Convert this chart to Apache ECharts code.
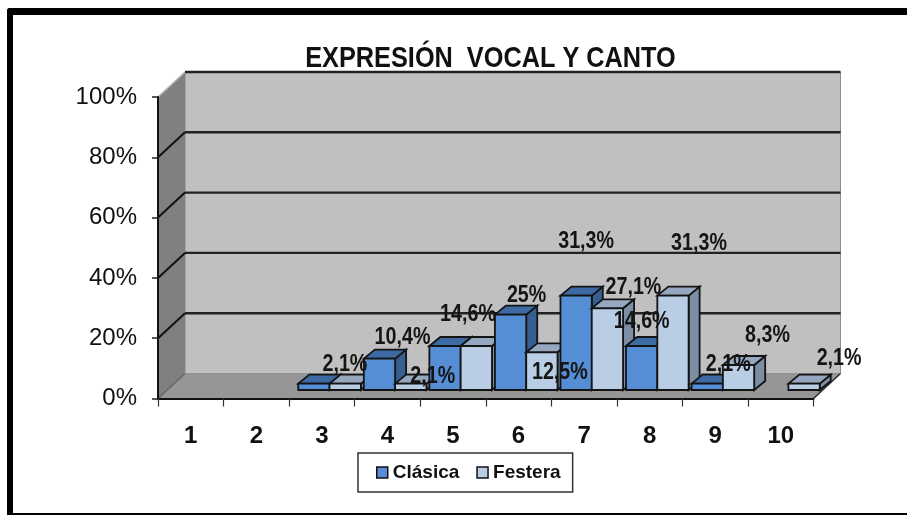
<!DOCTYPE html>
<html><head><meta charset="utf-8">
<style>html,body{margin:0;padding:0;background:#fff}#c{width:907px;height:515px}</style>
<script src="https://cdn.jsdelivr.net/npm/echarts@6/dist/echarts.min.js"></script>
</head><body><div id="c"></div>
<script>
const titleText = 'EXPRESIÓN  VOCAL Y CANTO';
const categories = ['1','2','3','4','5','6','7','8','9','10'];
const yTicks = [0,20,40,60,80,100];
const clasica = [null,null,2.1,10.4,14.6,25,31.3,14.6,2.1,null];
const festera = [null,null,2.1,2.1,14.6,12.5,27.1,31.3,8.3,2.1];
// Which bars carry a label in the reference, and how far the label was hand-moved from the bar top
const clasicaLabelShift = [null,null,[31,-19],[23,-21],[23,-32],[16,-19],[10,-54],[0,-25],[21,-19],null];
const festeraLabelShift = [null,null,null,[22,-7],null,[18,20],[26,-21],[26,-52],[29,-30],[35,-25]];

const FONT = '"Liberation Sans",Arial,sans-serif';
const DX = 27, DY = -25;
const BAR_W = 31.3, BAR_SHIFT = 7.7, BAR_LIFT = 8.5, DEPTH_X = 11, DEPTH_Y = -9;
const fmt = v => String(v).replace('.', ',') + '%';

function poly(points, fill, stroke, lw, z2) {
  return {type:'polygon', shape:{points}, z2, silent:true,
    style:{fill, stroke:stroke||null, lineWidth:lw||0, lineJoin:'miter'}};
}
function seg(a, b, stroke, lw, z2) {
  return {type:'line', shape:{x1:a[0],y1:a[1],x2:b[0],y2:b[1]}, z2, silent:true,
    style:{stroke, lineWidth:lw}};
}
function renderWalls(params, api) {
  const band = api.size([1,0])[0];
  const L = api.coord([0,0])[0]-band/2, R = api.coord([categories.length-1,0])[0]+band/2;
  const B = api.coord([0,0])[1], T = api.coord([0,100])[1];
  const kids = [
    poly([[L+DX,T+DY],[R+DX,T+DY],[R+DX,B+DY],[L+DX,B+DY]],'#c0c0c0','#8c8c8c',1,-100),
    poly([[L,T],[L+DX,T+DY],[L+DX,B+DY],[L,B]],'#808080',null,0,-99),
    poly([[L,B],[L+DX,B+DY],[R+DX,B+DY],[R,B]],'#969696',null,0,-99),
    seg([L,T],[L+DX,T+DY],'#b5b5b5',1.5,-98),
    seg([R,B],[R+DX,B+DY],'#2a2a2a',1.5,-98),
    seg([L,B],[L+DX,B+DY],'#666',1.5,-98)
  ];
  yTicks.forEach(t => {
    if (t === 0) return;
    const y = api.coord([0,t])[1];
    kids.push(seg([L+DX,y+DY],[R+DX,y+DY],'#222',2.4,-97));
    if (t !== 100) kids.push(seg([L,y],[L+DX,y+DY],'#111',2,-97));
  });
  return {type:'group', children:kids};
}
function barRenderer(sIdx, cols, shifts) {
  return function (params, api) {
    const v = api.value(1);
    if (v == null || isNaN(v)) return null;
    const i = api.value(0);
    const c = api.coord([i, v]), b = api.coord([i, 0]);
    const x0 = c[0]+BAR_SHIFT-BAR_W+sIdx*BAR_W, x1 = x0+BAR_W;
    const yT = c[1]-BAR_LIFT, yB = b[1]-BAR_LIFT;
    const z = i*4+sIdx*2;
    const kids = [
      poly([[x1,yT],[x1+DEPTH_X,yT+DEPTH_Y],[x1+DEPTH_X,yB+DEPTH_Y],[x1,yB]],cols[2],'#141414',1.8,z),
      poly([[x0,yT],[x0+DEPTH_X,yT+DEPTH_Y],[x1+DEPTH_X,yT+DEPTH_Y],[x1,yT]],cols[1],'#141414',1.8,z),
      poly([[x0,yT],[x1,yT],[x1,yB],[x0,yB]],cols[0],'#141414',1.8,z+1)
    ];
    const s = shifts[i];
    if (s) kids.push({type:'text', silent:true, z2:1000,
      x:(x0+x1)/2+s[0], y:yT+s[1], scaleX:0.82, scaleY:1,
      style:{text:fmt(v), x:0, y:0, align:'center', verticalAlign:'middle',
             fill:'#151515', font:'bold 24px '+FONT}});
    return {type:'group', children:kids};
  };
}
const chart = echarts.init(document.getElementById('c'), null, {renderer:'canvas'});
chart.setOption({
  animation:false,
  backgroundColor:'#fff',
  grid:{left:158, right:93.5, top:97, bottom:116.5, containLabel:false},
  tooltip:{show:false},
  legend:{data:['Clásica','Festera'], left:358, top:453, orient:'horizontal',
    backgroundColor:'#fff', borderColor:'#333', borderWidth:1.5, borderRadius:0,
    padding:[10,12,10,18], itemWidth:11, itemHeight:11, itemGap:17, icon:'rect',
    selectedMode:false,
    itemStyle:{borderColor:'#111', borderWidth:1.5},
    textStyle:{fontFamily:FONT, fontWeight:'bold', fontSize:19, color:'#111'}},
  xAxis:{type:'category', data:categories, boundaryGap:true, z:5,
    axisLine:{show:true, lineStyle:{color:'#111', width:2}},
    axisTick:{show:true, alignWithLabel:false, length:8, lineStyle:{color:'#333', width:1.2}},
    axisLabel:{interval:0, margin:26, fontFamily:FONT, fontWeight:'bold', fontSize:24, color:'#111'},
    splitLine:{show:false}},
  yAxis:{type:'value', min:0, max:100, interval:20, z:5,
    axisLine:{show:true, lineStyle:{color:'#111', width:2}},
    axisTick:{show:true, length:6, lineStyle:{color:'#222', width:1.5}},
    axisLabel:{margin:21, fontFamily:FONT, fontSize:24, color:'#111', formatter:'{value}%', padding:[2,0,0,0]},
    splitLine:{show:false}},
  graphic:[
    {type:'rect', shape:{x:7,y:8,width:900,height:7,r:[3,0,0,0]}, style:{fill:'#000'}, silent:true},
    {type:'rect', shape:{x:7,y:8,width:6,height:507,r:[3,0,0,0]}, style:{fill:'#000'}, silent:true},
    {type:'rect', shape:{x:7,y:513,width:900,height:2}, style:{fill:'#000'}, silent:true},
    {type:'text', x:490.5, y:59, scaleX:0.843, scaleY:1, silent:true, z:10,
      style:{text:titleText, x:0, y:0, align:'center', verticalAlign:'middle', fill:'#111', font:'bold 30px '+FONT}}
  ],
  series:[
    {type:'custom', name:'walls', renderItem:renderWalls, data:[[0,0]], silent:true, clip:false, z:1,
     encode:{x:0,y:1}},
    {type:'custom', name:'Clásica', coordinateSystem:'cartesian2d', silent:true, clip:false, z:2,
     itemStyle:{color:'#558ed5'}, encode:{x:0,y:1},
     renderItem:barRenderer(0,['#558ed5','#3d6aa3','#375f92'],clasicaLabelShift),
     data:clasica.map((v,i)=>[i,v])},
    {type:'custom', name:'Festera', coordinateSystem:'cartesian2d', silent:true, clip:false, z:2,
     itemStyle:{color:'#b9cde5'}, encode:{x:0,y:1},
     renderItem:barRenderer(1,['#b9cde5','#95a8c0','#7c8ea3'],festeraLabelShift),
     data:festera.map((v,i)=>[i,v])}
  ]
});
</script></body></html>
